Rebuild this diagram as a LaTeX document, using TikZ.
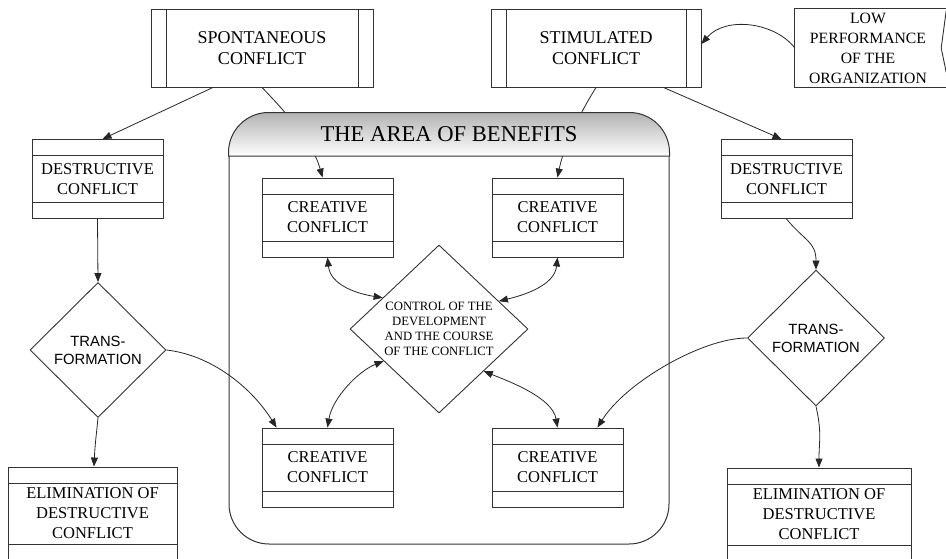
\documentclass[tikz,border=0pt]{standalone}
\usepackage{fontspec}
\setmainfont{Liberation Serif}
\newfontfamily\arialfont{Liberation Sans}
\usetikzlibrary{positioning,arrows.meta,shapes.geometric,calc}
\pgfdeclarelayer{behind}
\pgfsetlayers{behind,main}

\begin{document}
\begin{tikzpicture}[x=1pt, y=-1pt,
    procBox/.style={rectangle, draw=black!80, line width=0.9pt, fill=white, minimum width=#1, minimum height=78, inner sep=0pt, align=center, font=\fontsize{18}{21}\selectfont,
        path picture={\draw[black!80, line width=0.9pt]
            ([xshift=15]path picture bounding box.north west) -- ([xshift=15]path picture bounding box.south west)
            ([xshift=-15]path picture bounding box.north east) -- ([xshift=-15]path picture bounding box.south east);}},
    stripBox/.style={rectangle, draw=black!80, line width=0.9pt, fill=white, minimum width=#1, minimum height=79, inner sep=0pt, align=center, font=\fontsize{16.5}{20}\selectfont,
        path picture={\draw[black!80, line width=0.9pt]
            ([yshift=-16]path picture bounding box.north west) -- ([yshift=-16]path picture bounding box.north east)
            ([yshift=16]path picture bounding box.south west) -- ([yshift=16]path picture bounding box.south east);}},
    decBox/.style={diamond, draw=black!80, line width=0.9pt, fill=white, inner sep=0pt, align=center},
    flowArrow/.style={-{Triangle[length=9pt,width=7pt]}, line width=0.8pt, draw=black!85},
    twoWay/.style={{Triangle[length=9pt,width=7pt]}-{Triangle[length=9pt,width=7pt]}, line width=0.8pt, draw=black!85}
]
    \useasboundingbox (0,0) rectangle (946,558);
    \clip (0,0) rectangle (946,558);

    % area of benefits
    \node[draw=black!80, line width=1pt, rounded corners=40, minimum width=440, minimum height=431, inner sep=0pt] (area) at (449,328.5) {};
    \coordinate (hdr) at (449,156);
    \shade[draw=black!80, line width=1pt, top color=black!30, bottom color=white]
        (area.west |- hdr) -- ([yshift=-40]area.north west) arc[start angle=180, end angle=270, radius=40]
        -- ([xshift=-40]area.north east) arc[start angle=270, end angle=360, radius=40]
        -- (area.east |- hdr) -- cycle;
    \node[font=\fontsize{22.6}{26}\selectfont] (areaTitle) at (449,134.5) {THE AREA OF BENEFITS};

    % sources
    \node[procBox=222] (spont) at (262,48) {SPONTANEOUS\\CONFLICT};
    \node[procBox=210] (stim) at (596,48) {STIMULATED\\CONFLICT};
    \node[minimum width=146, minimum height=78, inner sep=0pt, align=center, font=\fontsize{15.7}{20}\selectfont] (low) at (868,48) {LOW\\PERFORMANCE\\OF THE\\ORGANIZATION};
    \draw[black!80, line width=0.9pt] ([xshift=20]low.north east) -| (low.south west) -- ([xshift=20]low.south east);
    \draw[black!80, line width=0.9pt] ([xshift=5,yshift=-2]low.north east) -- (low.east) -- ([xshift=5,yshift=15]low.south east);

    \node[stripBox=131] (destL) at (97.5,179) {DESTRUCTIVE\\CONFLICT};
    \node[stripBox=131] (destR) at (786.5,179) {DESTRUCTIVE\\CONFLICT};

    \node[stripBox=131] (creTL) at (327.5,217.5) {CREATIVE\\CONFLICT};
    \node[stripBox=131] (creTR) at (557.5,217.5) {CREATIVE\\CONFLICT};
    \node[stripBox=131] (creBL) at (327.5,467.5) {CREATIVE\\CONFLICT};
    \node[stripBox=131] (creBR) at (557.5,467.5) {CREATIVE\\CONFLICT};

    \node[decBox, minimum width=136, minimum height=135, font=\arialfont\fontsize{14.8}{18}\selectfont] (transL) at (98,350) {TRANS-\\FORMATION};
    \node[decBox, minimum width=137, minimum height=136, font=\arialfont\fontsize{14.8}{18}\selectfont] (transR) at (816,338) {TRANS-\\FORMATION};
    \node[decBox, minimum width=178, minimum height=168, font=\fontsize{12.7}{15}\selectfont] (ctrl) at (439,329) {CONTROL OF THE\\DEVELOPMENT\\AND THE COURSE\\OF THE CONFLICT};

    \node[stripBox=169, minimum height=93] (elimL) at (92.5,513.5) {ELIMINATION OF\\DESTRUCTIVE\\CONFLICT};
    \node[stripBox=184, minimum height=93] (elimR) at (819,514.5) {ELIMINATION OF\\DESTRUCTIVE\\CONFLICT};

    % connectors hidden by the header
    \begin{pgfonlayer}{behind}
        \draw[flowArrow] (spont.south) .. controls +(28,29) and +(-9,-33) .. ([xshift=-5]creTL.north);
        \draw[flowArrow] (stim.south) .. controls +(-18,29) and +(6,-30) .. (creTR.north);
    \end{pgfonlayer}

    \draw[flowArrow] ($(spont.south west)!0.28!(spont.south east)$) -- ([xshift=5]destL.north);
    \draw[flowArrow] ($(stim.south west)!0.82!(stim.south east)$) -- ([xshift=-5]destR.north);
    \draw[flowArrow] (low.west) .. controls +(-20,-26) and +(24,-28) .. ([yshift=4]stim.east);

    \draw[flowArrow] (destL.south) -- (transL.north);
    \draw[flowArrow] (destR.south) .. controls +(18,22) and +(0,-28) .. (transR.north);
    \draw[flowArrow] (transL.south) .. controls +(-2,20) and +(1,-22) .. ([xshift=1.5]elimL.north);
    \draw[flowArrow] (transR.south) .. controls +(6,26) and +(0,-26) .. (elimR.north);
    \draw[flowArrow] (transL.east) .. controls +(45,5) and +(-25,-40) .. ([xshift=15]creBL.north west);
    \draw[flowArrow] (transR.west) .. controls +(-45,0) and +(28,-45) .. ([xshift=-26]creBR.north east);

    \draw[twoWay] (creTL.south) .. controls +(3,28) and +(-25,-4) .. ($(ctrl.west)!0.37!(ctrl.north)$);
    \draw[twoWay] (creTR.south) .. controls +(-3,28) and +(25,-6) .. ($(ctrl.north)!0.67!(ctrl.east)$);
    \draw[twoWay] ($(ctrl.west)!0.38!(ctrl.south)$) .. controls +(-25,10) and +(5,-30) .. (creBL.north);
    \draw[twoWay] ($(ctrl.south)!0.5!(ctrl.east)$) .. controls +(25,10) and +(-5,-30) .. (creBR.north);
\end{tikzpicture}
\end{document}
